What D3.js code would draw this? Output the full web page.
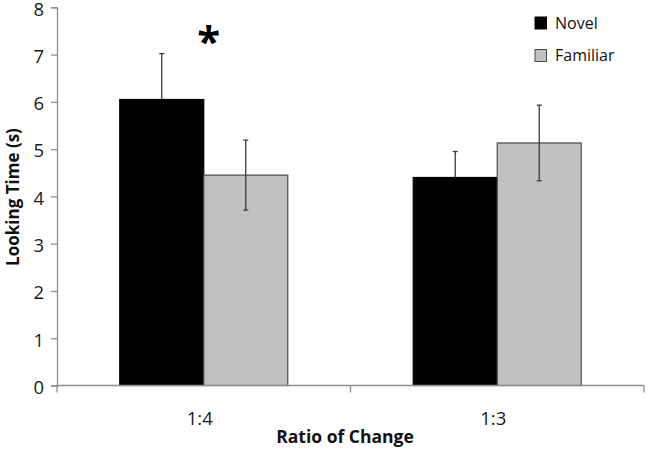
<!DOCTYPE html>
<html>
<head>
<meta charset="utf-8">
<script src="https://cdn.jsdelivr.net/npm/d3@7"></script>
<style>
  body { margin: 0; background: #fff; }
  svg { display: block; font-family: "Open Sans", "Noto Sans", sans-serif; }
</style>
</head>
<body>
<div id="chart"></div>
<script>
const ratios = ['1:4', '1:3'];
const conditions = ['Novel', 'Familiar'];
const novelMeans = [6.05, 4.40];
const novelErrors = [0.97, 0.55];
const familiarMeans = [4.45, 5.13];
const familiarErrors = [0.74, 0.80];
const yTicks = [0, 1, 2, 3, 4, 5, 6, 7, 8];

const width = 654;
const height = 451;
const margin = { top: 7.3, right: 10, bottom: 65.5, left: 57 };

const fills = { Novel: '#000000', Familiar: '#c0c0c0' };
const strokes = { Novel: '#000000', Familiar: '#4a4a4a' };
const errColor = '#3a3a3a';

const rows = ratios.map((ratio, i) => ({
  ratio,
  values: [
    { condition: 'Novel', mean: novelMeans[i], err: novelErrors[i] },
    { condition: 'Familiar', mean: familiarMeans[i], err: familiarErrors[i] }
  ]
}));

const svg = d3.select('#chart')
  .append('svg')
  .attr('width', width)
  .attr('height', height);

const x0 = d3.scaleBand()
  .domain(ratios)
  .range([margin.left, 644])
  .paddingInner(0)
  .paddingOuter(0);

const x1 = d3.scaleBand()
  .domain(conditions)
  .range([0, x0.bandwidth()])
  .paddingInner(0)
  .paddingOuter(0.747);

const y = d3.scaleLinear()
  .domain([0, 8])
  .range([height - margin.bottom, margin.top]);

// y axis
const yAxis = svg.append('g')
  .attr('transform', `translate(${margin.left},0)`)
  .call(d3.axisLeft(y).tickValues(yTicks).tickSize(6).tickPadding(7));
yAxis.select('.domain').attr('stroke', '#8f8f8f').attr('stroke-width', 1.3);
yAxis.selectAll('.tick line').attr('stroke', '#8f8f8f').attr('stroke-width', 1.3);
yAxis.selectAll('.tick text')
  .attr('font-size', '18.5px')
  .attr('dy', '0.42em')
  .attr('fill', '#1a1a1a')
  .attr('font-family', '"Open Sans", sans-serif');

// bars
const groups = svg.selectAll('.group')
  .data(rows)
  .enter()
  .append('g')
  .attr('class', 'group')
  .attr('transform', d => `translate(${x0(d.ratio)},0)`);

groups.selectAll('rect')
  .data(d => d.values)
  .enter()
  .append('rect')
  .attr('x', d => x1(d.condition))
  .attr('y', d => y(d.mean))
  .attr('width', x1.bandwidth())
  .attr('height', d => y(0) - y(d.mean))
  .attr('fill', d => fills[d.condition])
  .attr('stroke', d => strokes[d.condition])
  .attr('stroke-width', 1.2);

// error bars (the part inside a black bar is lost in the fill)
const errs = groups.selectAll('.err')
  .data(d => d.values)
  .enter()
  .append('g')
  .attr('class', 'err')
  .attr('stroke-width', 1.3);

const cx = d => x1(d.condition) + x1.bandwidth() / 2;
const lowColor = d => d.condition === 'Novel' ? fills.Novel : errColor;

errs.append('line')
  .attr('x1', cx)
  .attr('x2', cx)
  .attr('y1', d => y(d.mean + d.err))
  .attr('y2', d => y(d.mean))
  .attr('stroke', errColor);
errs.append('line')
  .attr('x1', cx)
  .attr('x2', cx)
  .attr('y1', d => y(d.mean))
  .attr('y2', d => y(d.mean - d.err))
  .attr('stroke', lowColor);
errs.append('line')
  .attr('x1', d => cx(d) - 2.5)
  .attr('x2', d => cx(d) + 2.5)
  .attr('y1', d => y(d.mean + d.err))
  .attr('y2', d => y(d.mean + d.err))
  .attr('stroke', errColor);
errs.append('line')
  .attr('x1', d => cx(d) - 2.5)
  .attr('x2', d => cx(d) + 2.5)
  .attr('y1', d => y(d.mean - d.err))
  .attr('y2', d => y(d.mean - d.err))
  .attr('stroke', lowColor);

// x axis, ticks on the band edges
const xAxisG = svg.append('g')
  .attr('transform', `translate(0,${y(0)})`);
xAxisG.append('line')
  .attr('x1', x0.range()[0])
  .attr('x2', x0.range()[1])
  .attr('stroke', '#8f8f8f')
  .attr('stroke-width', 1.3);
const edges = ratios.map(r => x0(r)).concat([x0.range()[1]]);
xAxisG.selectAll('.edge')
  .data(edges)
  .enter()
  .append('line')
  .attr('class', 'edge')
  .attr('x1', d => d)
  .attr('x2', d => d)
  .attr('y1', 0)
  .attr('y2', 7)
  .attr('stroke', '#8f8f8f')
  .attr('stroke-width', 1.3);
xAxisG.selectAll('.lbl')
  .data(ratios)
  .enter()
  .append('text')
  .attr('class', 'lbl')
  .attr('x', d => x0(d) + x0.bandwidth() / 2 - 4)
  .attr('y', 39.5)
  .attr('text-anchor', 'middle')
  .attr('font-size', '18.5px')
  .attr('fill', '#1a1a1a')
  .text(d => d);

// axis titles
svg.append('text')
  .attr('x', 345)
  .attr('y', 443)
  .attr('text-anchor', 'middle')
  .attr('font-size', '17.5px')
  .attr('font-weight', 'bold')
  .attr('fill', '#111')
  .text('Ratio of Change');

svg.append('text')
  .attr('transform', 'translate(19,197) rotate(-90)')
  .attr('text-anchor', 'middle')
  .attr('font-size', '17px')
  .attr('font-weight', 'bold')
  .attr('fill', '#111')
  .text('Looking Time (s)');

// significance marker
svg.append('text')
  .attr('x', x0('1:4') + x0.bandwidth() / 2 + 5)
  .attr('y', 56)
  .attr('text-anchor', 'middle')
  .attr('font-size', '42px')
  .attr('font-weight', 'bold')
  .attr('fill', '#000')
  .text('*');

// legend
const legend = svg.append('g')
  .attr('transform', 'translate(535,17)');
conditions.forEach((c, i) => {
  const row = legend.append('g')
    .attr('transform', `translate(0,${i * 32.5})`);
  row.append('rect')
    .attr('width', 11.5)
    .attr('height', 12)
    .attr('fill', fills[c])
    .attr('stroke', strokes[c])
    .attr('stroke-width', 1);
  row.append('text')
    .attr('x', 20)
    .attr('y', 11.5)
    .attr('font-size', '16px')
    .attr('fill', '#111')
    .text(c);
});
</script>
</body>
</html>
